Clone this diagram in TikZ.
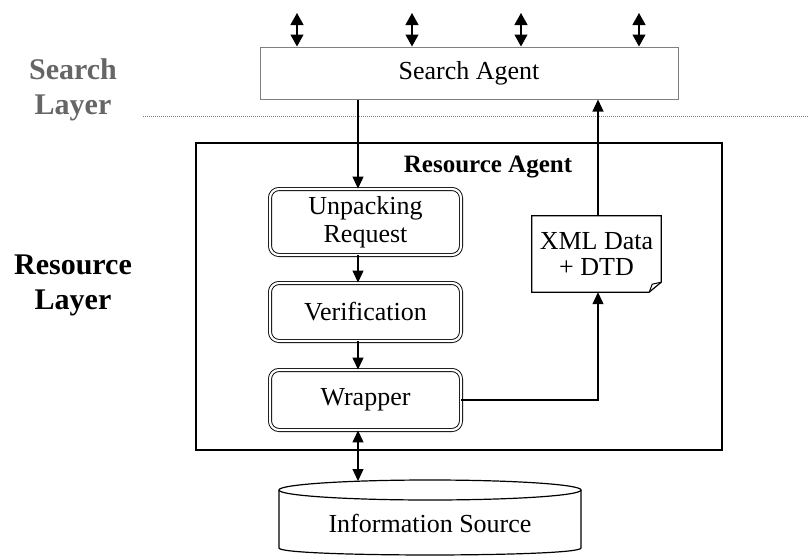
\documentclass[tikz,border=0pt]{standalone}
\usepackage{fontspec}
\setmainfont{Liberation Serif}
\usetikzlibrary{arrows.meta}
\begin{document}
\begin{tikzpicture}[x=1pt,y=-1pt,
  txt/.style={font=\fontsize{26}{29}\selectfont},
  lbl/.style={font=\fontsize{30}{35}\selectfont\bfseries, align=center},
  dbox/.style={draw, double, double distance=2.2pt, line width=0.9pt, rounded corners=9pt,
     minimum width=191pt, inner sep=0pt, align=center, txt},
  arr/.style={line width=1.2pt, -{Triangle[length=12pt,width=11pt]}},
  darr/.style={line width=1.2pt, {Triangle[length=12pt,width=11pt]}-{Triangle[length=12pt,width=11pt]}},
  tarr/.style={line width=1.2pt, {Triangle[length=12pt,width=13pt]}-{Triangle[length=12pt,width=13pt]}}
]
\useasboundingbox (0,0) rectangle (809,557);

% layer labels
\node[lbl, text=black!60] (sl) at (73,90) {Search\\Layer};
\node[lbl] (rl) at (73,285) {Resource\\Layer};

% layer separator
\coordinate (dl) at (143,116);
\coordinate (dr) at (809,116);
\draw[gray, line width=0.9pt, dash pattern=on 1pt off 1pt] (dl) -- (dr);

% search agent
\node[draw=black!50, line width=1pt, minimum width=418pt, minimum height=52pt, inner sep=0pt, txt]
  (sa) at (469,73) {Search Agent};
\foreach \i/\x in {1/297,2/412,3/521,4/639}{
  \coordinate (t\i) at (\x,13);
  \draw[tarr] (t\i) -- (sa.north -| t\i);
}

% resource agent
\node[draw, line width=1.5pt, minimum width=526pt, minimum height=307pt, inner sep=0pt]
  (ra) at (459,296.5) {};
\node[font=\fontsize{25}{28}\selectfont\bfseries] (rat) at (488,167) {Resource Agent};

\node[dbox, minimum height=66pt] (unp) at (365.5,222) {Unpacking\\[-1pt]Request};
\node[dbox, minimum height=58pt] (ver) at (365.5,312) {Verification};
\node[dbox, minimum height=60pt] (wra) at (365.5,400) {Wrapper};

% XML document
\node[minimum width=129pt, minimum height=76pt, inner sep=0pt, align=center, txt]
  (xml) at (596.5,254) {XML Data\\[-3pt]+ DTD};
\draw[line width=1.2pt] (xml.north west) -- (xml.north east) -- ([yshift=10pt]xml.south east)
  -- ([xshift=-12pt]xml.south east) -- (xml.south west) -- cycle;
\draw[line width=1pt] ([yshift=10pt]xml.south east) -- ([xshift=-9pt,yshift=8pt]xml.south east)
  -- ([xshift=-12pt]xml.south east);

% information source (cylinder)
\draw[line width=1.2pt] (430,490) ellipse [x radius=151, y radius=10];
\draw[line width=1.2pt] (279,490) -- (279,548) .. controls (279,557.3) and (581,557.3) .. (581,548) -- (581,490);
\node[txt] (is) at (430,523) {Information Source};
\coordinate (istop) at (358,481);

% connectors
\coordinate (ax) at (358,0);
\coordinate (bx) at (598,0);
\draw[arr] (sa.south -| ax) -- (unp.north -| ax);
\draw[arr] (unp.south -| ax) -- (ver.north -| ax);
\draw[arr] (ver.south -| ax) -- (wra.north -| ax);
\draw[darr] (wra.south -| ax) -- (istop);
\draw[arr] (xml.north -| bx) -- (sa.south -| bx);
\draw[arr] (wra.east) -- (wra.east -| bx) -- (xml.south -| bx);
\end{tikzpicture}
\end{document}
